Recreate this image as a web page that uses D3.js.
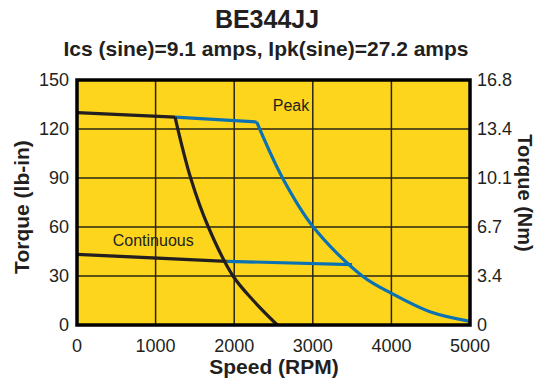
<!DOCTYPE html>
<html>
<head>
<meta charset="utf-8">
<script src="https://cdn.jsdelivr.net/npm/d3@7"></script>
<style>
  html, body { margin: 0; padding: 0; background: #fff; }
  svg text { font-family: "Liberation Sans", Arial, sans-serif; fill: #231f20; }
</style>
</head>
<body>
<svg id="chart" width="537" height="378"></svg>
<script>
// chart data (speed in RPM, torque in lb-in)
const title = 'BE344JJ';
const subtitle = 'Ics (sine)=9.1 amps, Ipk(sine)=27.2 amps';
const xTicks = [0, 1000, 2000, 3000, 4000, 5000];
const yTicks = [0, 30, 60, 90, 120, 150];
const yTicksNm = ['0', '3.4', '6.7', '10.1', '13.4', '16.8'];

const peakBlackFlat = [[0, 130], [1247, 127.3]];
const peakBlackFall = [[1247, 127.3], [1446, 90], [1671, 60], [1985, 30], [2243, 15], [2548, 0]];
const peakBlueFlat = [[1247, 127.3], [2286, 124.3]];
const peakBlueFall = [[2286, 124.3], [2615, 90], [3006, 60], [3630, 30], [4000, 19.4], [4490, 8.1], [5000, 2.2]];
const contBlack = [[0, 43.3], [1904, 39]];
const contBlue = [[1904, 39], [3500, 37]];

const colors = { bg: '#fdd51d', black: '#231f20', blue: '#0a72b4', grid: '#2a2412' };
const margin = { top: 80, right: 67, bottom: 53, left: 77 };

const svg = d3.select('#chart');
const width = +svg.attr('width') - margin.left - margin.right;
const height = +svg.attr('height') - margin.top - margin.bottom;

const x = d3.scaleLinear().domain([0, 5000]).range([0, width]);
const y = d3.scaleLinear().domain([0, 150]).range([height, 0]);

svg.append('text')
  .attr('x', 267).attr('y', 28)
  .attr('text-anchor', 'middle')
  .style('font-size', '25px').style('font-weight', 'bold')
  .text(title);
svg.append('text')
  .attr('x', 266).attr('y', 56)
  .attr('text-anchor', 'middle')
  .style('font-size', '21px').style('font-weight', 'bold')
  .text(subtitle);

const g = svg.append('g').attr('transform', `translate(${margin.left},${margin.top})`);

g.append('rect')
  .attr('width', width).attr('height', height)
  .attr('fill', colors.bg);

// grid
g.selectAll('.vgrid').data(xTicks.slice(1, -1)).enter().append('line')
  .attr('x1', d => x(d)).attr('x2', d => x(d))
  .attr('y1', 0).attr('y2', height)
  .attr('stroke', colors.grid).attr('stroke-width', 1.5);
g.selectAll('.hgrid').data(yTicks.slice(1, -1)).enter().append('line')
  .attr('x1', 0).attr('x2', width)
  .attr('y1', d => y(d)).attr('y2', d => y(d))
  .attr('stroke', colors.grid).attr('stroke-width', 1.5);

// tick labels
g.selectAll('.xlab').data(xTicks).enter().append('text')
  .attr('x', d => x(d)).attr('y', height + 27)
  .attr('text-anchor', 'middle')
  .style('font-size', '18px')
  .text(d => d);
g.selectAll('.ylab').data(yTicks).enter().append('text')
  .attr('x', -8).attr('y', d => y(d) + 6)
  .attr('text-anchor', 'end')
  .style('font-size', '18px')
  .text(d => d);
g.selectAll('.ylab2').data(yTicks).enter().append('text')
  .attr('x', width + 7).attr('y', d => y(d) + 6)
  .attr('text-anchor', 'start')
  .style('font-size', '18px')
  .text((d, i) => yTicksNm[i]);

// axis titles
svg.append('text')
  .attr('x', 274).attr('y', 374)
  .attr('text-anchor', 'middle')
  .style('font-size', '21px').style('font-weight', 'bold')
  .text('Speed (RPM)');
svg.append('text')
  .attr('transform', 'translate(29,207) rotate(-90)')
  .attr('text-anchor', 'middle')
  .style('font-size', '21px').style('font-weight', 'bold')
  .text('Torque (lb-in)');
svg.append('text')
  .attr('transform', 'translate(518,193) rotate(90)')
  .attr('text-anchor', 'middle')
  .style('font-size', '20px').style('font-weight', 'bold')
  .text('Torque (Nm)');

// curves
const straight = d3.line().x(d => x(d[0])).y(d => y(d[1]));
const smooth = d3.line().x(d => x(d[0])).y(d => y(d[1])).curve(d3.curveCatmullRom.alpha(0.5));

function drawLine(data, gen, color) {
  g.append('path')
    .datum(data)
    .attr('d', gen)
    .attr('fill', 'none')
    .attr('stroke', color)
    .attr('stroke-width', 3.2)
    .attr('stroke-linejoin', 'round');
}

drawLine(contBlue, straight, colors.blue);
drawLine(peakBlueFlat, straight, colors.blue);
drawLine(peakBlueFall, smooth, colors.blue);
drawLine(contBlack, straight, colors.black);
drawLine(peakBlackFlat, straight, colors.black);
drawLine(peakBlackFall, smooth, colors.black);

// labels
g.append('text')
  .attr('x', x(2490)).attr('y', y(131))
  .style('font-size', '16px')
  .text('Peak');
g.append('text')
  .attr('x', x(455)).attr('y', y(48.5))
  .style('font-size', '16px')
  .text('Continuous');

// frame
g.append('rect')
  .attr('width', width).attr('height', height)
  .attr('fill', 'none')
  .attr('stroke', '#000').attr('stroke-width', 3.5);
</script>
</body>
</html>
